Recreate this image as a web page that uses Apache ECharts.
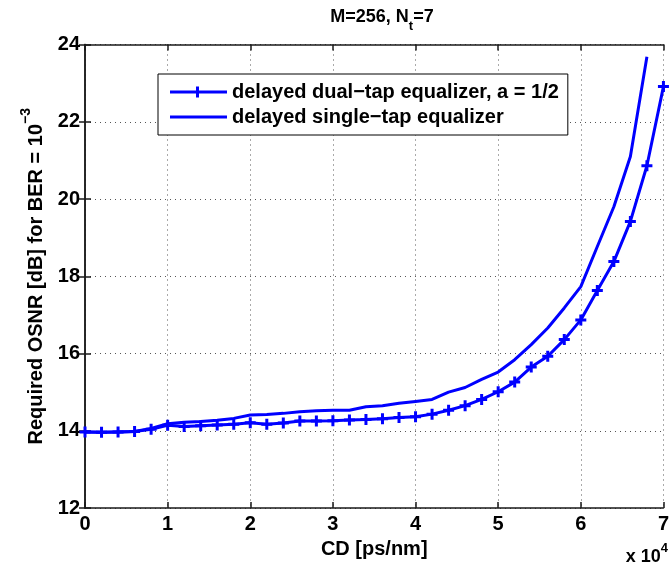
<!DOCTYPE html>
<html>
<head>
<meta charset="utf-8">
<script src="https://cdn.jsdelivr.net/npm/echarts@6/dist/echarts.min.js"></script>
<style>
  html, body { margin: 0; padding: 0; background: #fff; }
  #chart { width: 672px; height: 570px; }
</style>
</head>
<body>
<div id="chart"></div>
<script>
// Chromatic dispersion (ps/nm), sampled every 2000 ps/nm
const cdDual = [0, 2000, 4000, 6000, 8000, 10000, 12000, 14000, 16000, 18000,
  20000, 22000, 24000, 26000, 28000, 30000, 32000, 34000, 36000, 38000,
  40000, 42000, 44000, 46000, 48000, 50000, 52000, 54000, 56000, 58000,
  60000, 62000, 64000, 66000, 68000, 70000];
const cdSingle = cdDual.slice(0, 35);

// Required OSNR (dB) for BER = 1e-3
const osnrDualTap = [13.97, 13.96, 13.97, 13.98, 14.04, 14.14, 14.11, 14.13, 14.15, 14.17,
  14.21, 14.17, 14.20, 14.25, 14.25, 14.26, 14.28, 14.29, 14.31, 14.34,
  14.36, 14.43, 14.53, 14.65, 14.81, 15.01, 15.26, 15.65, 15.93, 16.36,
  16.87, 17.63, 18.38, 19.42, 20.86, 22.91];
const osnrSingleTap = [13.97, 13.96, 13.97, 13.98, 14.06, 14.18, 14.22, 14.24, 14.27, 14.32,
  14.41, 14.42, 14.45, 14.49, 14.52, 14.53, 14.53, 14.62, 14.65, 14.71,
  14.76, 14.81, 15.00, 15.12, 15.33, 15.52, 15.84, 16.23, 16.66, 17.18,
  17.73, 18.77, 19.80, 21.10, 23.68];

const seriesNames = ['delayed dual\u2212tap equalizer, a = 1/2', 'delayed single\u2212tap equalizer'];

const FONT = 'Liberation Sans';
const BLUE = '#0000ff';
// plus-shaped marker
const plusPath = 'path://M4,0H7V4H11V7H7V11H4V7H0V4H4Z';
// legend keys: plain line, and line with a plus in the middle
const barPath = 'path://M0,0H57V3H0Z';
const barPlusPath = 'path://M0,4H26V0H29V4H57V7H29V11H26V7H0Z';

const pairs = (xs, ys) => xs.map((x, i) => [x, ys[i]]);

const chart = echarts.init(document.getElementById('chart'), null, { renderer: 'canvas' });

const axisLineStyle = { color: '#1a1a1a', width: 1.5 };
const gridLine = { show: true, lineStyle: { color: '#555', width: 1, type: [1, 4] } };

chart.setOption({
  animation: false,
  backgroundColor: '#fff',
  textStyle: { fontFamily: FONT },
  title: {
    text: '{a|M=256, N}{s|t}{a|=7}',
    left: 377, top: 3, textAlign: 'center',
    textStyle: {
      rich: {
        a: { fontFamily: FONT, fontWeight: 'bold', fontSize: 18, lineHeight: 22, verticalAlign: 'top', color: '#000' },
        s: { fontFamily: FONT, fontWeight: 'bold', fontSize: 13, lineHeight: 13, padding: [12, 0, 0, 0], verticalAlign: 'top', color: '#000' }
      }
    }
  },
  legend: {
    orient: 'vertical',
    left: 158, top: 74,
    padding: [8, 9, 8, 12],
    itemGap: 5,
    itemWidth: 57,
    itemHeight: 12,
    borderColor: '#000', borderWidth: 1,
    backgroundColor: '#fff',
    borderRadius: 0,
    data: [
      { name: seriesNames[0], icon: barPlusPath },
      { name: seriesNames[1], icon: barPath }
    ],
    textStyle: { fontFamily: FONT, fontWeight: 'bold', fontSize: 20, color: '#000' }
  },
  grid: { left: 85, right: 2, top: 44.5, bottom: 62, containLabel: false },
  xAxis: [{
    type: 'value', min: 0, max: 70000, interval: 10000,
    name: 'CD [ps/nm]', nameLocation: 'middle', nameGap: 31,
    nameTextStyle: { fontFamily: FONT, fontWeight: 'bold', fontSize: 20, color: '#000' },
    axisLine: { show: true, lineStyle: axisLineStyle },
    axisTick: { show: true, inside: true, length: 6, lineStyle: axisLineStyle },
    axisLabel: { fontFamily: FONT, fontWeight: 'bold', fontSize: 20, color: '#000', margin: 6,
      formatter: v => String(v / 10000) },
    splitLine: gridLine
  }, {
    type: 'value', min: 0, max: 70000, interval: 10000, position: 'top',
    axisLine: { show: true, lineStyle: axisLineStyle },
    axisTick: { show: true, inside: true, length: 6, lineStyle: axisLineStyle },
    axisLabel: { show: false }, splitLine: { show: false }
  }],
  yAxis: [{
    type: 'value', min: 12, max: 24, interval: 2,
    name: '{a|Required OSNR [dB] for BER = 10}{s|\u22123}',
    nameLocation: 'middle', nameGap: 42, nameRotate: 90,
    nameTextStyle: {
      rich: {
        a: { fontFamily: FONT, fontWeight: 'bold', fontSize: 20, lineHeight: 24, padding: [7, 0, 0, 0], verticalAlign: 'top', color: '#000' },
        s: { fontFamily: FONT, fontWeight: 'bold', fontSize: 14, lineHeight: 14, verticalAlign: 'top', color: '#000' }
      }
    },
    axisLine: { show: true, lineStyle: axisLineStyle },
    axisTick: { show: true, inside: true, length: 6, lineStyle: axisLineStyle },
    axisLabel: { fontFamily: FONT, fontWeight: 'bold', fontSize: 20, color: '#000', margin: 5 },
    splitLine: gridLine
  }, {
    type: 'value', min: 12, max: 24, interval: 2, position: 'right',
    axisLine: { show: true, lineStyle: axisLineStyle },
    axisTick: { show: true, inside: true, length: 6, lineStyle: axisLineStyle },
    axisLabel: { show: false }, splitLine: { show: false }
  }],
  graphic: [{
    type: 'text', right: 4, bottom: 4,
    style: {
      text: '{a|x 10}{s|4}',
      rich: {
        a: { fontFamily: FONT, fontWeight: 'bold', fontSize: 18, lineHeight: 20, padding: [6, 0, 0, 0], verticalAlign: 'top', fill: '#000' },
        s: { fontFamily: FONT, fontWeight: 'bold', fontSize: 13, lineHeight: 13, verticalAlign: 'top', fill: '#000' }
      }
    }
  }],
  series: [{
    name: seriesNames[0],
    type: 'line',
    data: pairs(cdDual, osnrDualTap),
    symbol: plusPath, symbolSize: 11, symbolKeepAspect: true,
    showSymbol: true,
    color: BLUE,
    lineStyle: { color: BLUE, width: 3 },
    itemStyle: { color: BLUE, borderWidth: 0 },
    z: 3
  }, {
    name: seriesNames[1],
    type: 'line',
    data: pairs(cdSingle, osnrSingleTap),
    symbol: 'none',
    color: BLUE,
    lineStyle: { color: BLUE, width: 3 },
    itemStyle: { color: BLUE },
    z: 2
  }]
});
</script>
</body>
</html>
